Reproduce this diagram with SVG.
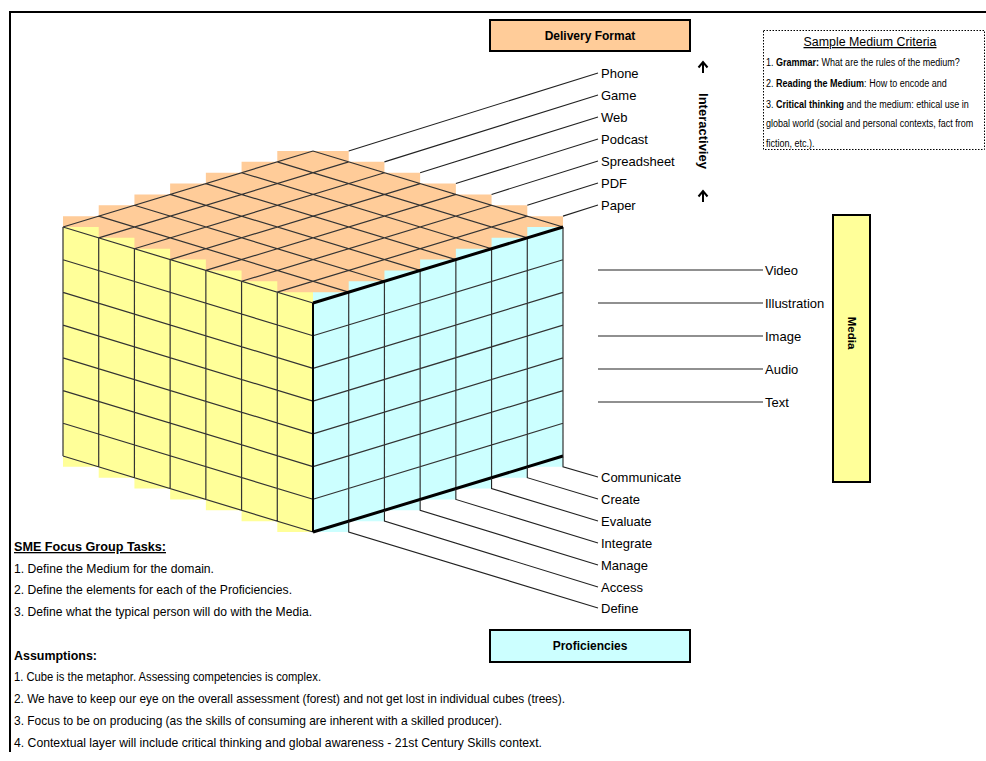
<svg xmlns="http://www.w3.org/2000/svg" width="986" height="761" viewBox="0 0 986 761">
  <style>
    text { font-family: "Liberation Sans", Arial, sans-serif; fill: #000; }
    .lbl { font-size: 13px; }
    .bold { font-weight: bold; }
    .small { font-size: 11px; }
    .grid { fill: none; stroke: #333; stroke-width: 1.2; }
    .edge { fill: none; stroke: #000; stroke-width: 3; }
    .leader { fill: none; stroke: #222; stroke-width: 1.1; }
    .box { stroke: #000; stroke-width: 2; }
  </style>

  <!-- page frame -->
  <g id="frame">
    <path d="M10,752 V12 H986" fill="none" stroke="#000" stroke-width="2"/>
  </g>

  <!-- 7x7x7 cube drawn from stepped cell columns -->
  <g id="cube">
    <!-- top face: delivery formats -->
    <path fill="#FFCC99" d="M63,216.14 H98.71 V205.29 H134.43 V194.43 H170.14 V183.57 H205.86 V172.71 H241.57 V161.86 H277.29 V151 H348.71 V161.86 H384.43 V172.71 H420.14 V183.57 H455.86 V194.43 H491.57 V205.29 H527.29 V216.14 H563 V303 H63 Z"/>
    <!-- left face: media -->
    <path fill="#FFFF99" d="M63,227 H98.71 V237.86 H134.43 V248.71 H170.14 V259.57 H205.86 V270.43 H241.57 V281.29 H277.29 V292.14 H313 V532 H277.29 V521.14 H241.57 V510.29 H205.86 V499.43 H170.14 V488.57 H134.43 V477.71 H98.71 V466.86 H63 Z"/>
    <!-- right face: proficiencies -->
    <path fill="#CCFFFF" d="M313,292.14 H348.71 V281.29 H384.43 V270.43 H420.14 V259.57 H455.86 V248.71 H491.57 V237.86 H527.29 V227 H563 V466.86 H527.29 V477.71 H491.57 V488.57 H455.86 V499.43 H420.14 V510.29 H384.43 V521.14 H348.71 V532 H313 Z"/>

    <!-- top face grid -->
    <path class="grid" d="M63,227 L313,303 M98.71,216.14 L348.71,292.14 M134.43,205.29 L384.43,281.29 M170.14,194.43 L420.14,270.43 M205.86,183.57 L455.86,259.57 M241.57,172.71 L491.57,248.71 M277.29,161.86 L527.29,237.86 M313,151 L563,227
      M63,227 L313,151 M98.71,237.86 L348.71,161.86 M134.43,248.71 L384.43,172.71 M170.14,259.57 L420.14,183.57 M205.86,270.43 L455.86,194.43 M241.57,281.29 L491.57,205.29 M277.29,292.14 L527.29,216.14"/>
    <!-- left face grid -->
    <path class="grid" d="M63,259.71 L313,335.71 M63,292.43 L313,368.43 M63,325.14 L313,401.14 M63,357.86 L313,433.86 M63,390.57 L313,466.57 M63,423.29 L313,499.29 M63,456 L313,532
      M63,227 V456 M98.71,237.86 V466.86 M134.43,248.71 V477.71 M170.14,259.57 V488.57 M205.86,270.43 V499.43 M241.57,281.29 V510.29 M277.29,292.14 V521.14"/>
    <!-- right face grid -->
    <path class="grid" d="M313,335.71 L563,259.71 M313,368.43 L563,292.43 M313,401.14 L563,325.14 M313,433.86 L563,357.86 M313,466.57 L563,390.57 M313,499.29 L563,423.29
      M348.71,292.14 V521.14 M384.43,281.29 V510.29 M420.14,270.43 V499.43 M455.86,259.57 V488.57 M491.57,248.71 V477.71 M527.29,237.86 V466.86 M563,227 V456"/>
    <!-- front edges -->
    <path class="edge" d="M313,303 L563,227 M313,532 L563,456"/>
    <path fill="none" stroke="#000" stroke-width="2" d="M313,303 V532"/>
  </g>

  <!-- leader lines -->
  <g id="connectors">
    <!-- delivery formats -->
    <path class="leader" d="M348.71,151 L598,73 M384.43,161.86 L598,95 M420.14,172.71 L598,117 M455.86,183.57 L598,139 M491.57,194.43 L598,161 M527.29,205.29 L598,183 M563,216.14 L598,205"/>
    <!-- media -->
    <path class="leader" d="M598,270 H763 M598,303 H763 M598,336 H763 M598,369 H763 M598,402 H763"/>
    <!-- proficiencies -->
    <path class="leader" d="M348.71,521.14 V532 L598,608 M384.43,510.29 V521.14 L598,587 M420.14,499.43 V510.29 L598,565 M455.86,488.57 V499.43 L598,543 M491.57,477.71 V488.57 L598,521 M527.29,466.86 V477.71 L598,499 M563,456 V466.86 L598,477"/>
  </g>

  <g id="format-labels">
    <text class="lbl" x="601" y="78">Phone</text>
    <text class="lbl" x="601" y="100">Game</text>
    <text class="lbl" x="601" y="122">Web</text>
    <text class="lbl" x="601" y="144">Podcast</text>
    <text class="lbl" x="601" y="166">Spreadsheet</text>
    <text class="lbl" x="601" y="188">PDF</text>
    <text class="lbl" x="601" y="210">Paper</text>
  </g>

  <g id="media-labels">
    <text class="lbl" x="765" y="275">Video</text>
    <text class="lbl" x="765" y="308">Illustration</text>
    <text class="lbl" x="765" y="341">Image</text>
    <text class="lbl" x="765" y="374">Audio</text>
    <text class="lbl" x="765" y="407">Text</text>
  </g>

  <g id="proficiency-labels">
    <text class="lbl" x="601" y="482">Communicate</text>
    <text class="lbl" x="601" y="504">Create</text>
    <text class="lbl" x="601" y="526">Evaluate</text>
    <text class="lbl" x="601" y="548">Integrate</text>
    <text class="lbl" x="601" y="570">Manage</text>
    <text class="lbl" x="601" y="592">Access</text>
    <text class="lbl" x="601" y="613">Define</text>
  </g>

  <g id="delivery-format">
    <rect class="box" x="490" y="20" width="200" height="31" fill="#FFCC99"/>
    <text class="bold" x="590" y="40" font-size="12" text-anchor="middle">Delivery Format</text>
  </g>

  <g id="interactivity">
    <path d="M703,73 V63 M698.5,67.5 L703,62 L707.5,67.5" fill="none" stroke="#000" stroke-width="2"/>
    <path d="M703,202 V192 M698.5,196.5 L703,191 L707.5,196.5" fill="none" stroke="#000" stroke-width="2"/>
    <text class="bold" font-size="13" transform="translate(699,131) rotate(90)" text-anchor="middle">Interactiviey</text>
  </g>

  <g id="media">
    <rect class="box" x="833" y="215" width="37" height="267" fill="#FFFF99"/>
    <text class="bold" font-size="11.5" transform="translate(848,333) rotate(90)" text-anchor="middle">Media</text>
  </g>

  <g id="proficiencies">
    <rect class="box" x="490" y="630" width="200" height="32" fill="#CCFFFF"/>
    <text class="bold" x="590" y="650" font-size="12" text-anchor="middle">Proficiencies</text>
  </g>

  <g id="criteria">
    <rect x="763.5" y="30.5" width="221" height="119" fill="#fff" stroke="#000" stroke-width="1" stroke-dasharray="1.5 1.5"/>
    <text x="870" y="46" font-size="12.5" text-anchor="middle" text-decoration="underline" textLength="133" lengthAdjust="spacingAndGlyphs">Sample Medium Criteria</text>
    <!-- body lines are set in a horizontally condensed face -->
    <g transform="translate(766,0) scale(0.82,1)">
      <text class="small" x="0" y="66">1. <tspan class="bold">Grammar:</tspan> What are the rules of the medium?</text>
      <text class="small" x="0" y="87">2. <tspan class="bold">Reading the Medium</tspan>: How to encode and</text>
      <text class="small" x="0" y="108">3. <tspan class="bold">Critical thinking</tspan> and the medium: ethical use in</text>
      <text class="small" x="0" y="127">global world (social and personal contexts, fact from</text>
      <text class="small" x="0" y="147">fiction, etc.).</text>
    </g>
  </g>

  <g id="tasks">
    <text class="bold" x="14" y="551" font-size="13" text-decoration="underline" textLength="152" lengthAdjust="spacingAndGlyphs">SME Focus Group Tasks:</text>
    <text x="14" y="573" font-size="13" textLength="200" lengthAdjust="spacingAndGlyphs">1. Define the Medium for the domain.</text>
    <text x="14" y="594" font-size="13" textLength="278" lengthAdjust="spacingAndGlyphs">2. Define the elements for each of the Proficiencies.</text>
    <text x="14" y="616" font-size="13" textLength="298" lengthAdjust="spacingAndGlyphs">3. Define what the typical person will do with the Media.</text>
  </g>

  <g id="assumptions">
    <text class="bold" x="14" y="660" font-size="13" textLength="83" lengthAdjust="spacingAndGlyphs">Assumptions:</text>
    <text x="14" y="681" font-size="13" textLength="307" lengthAdjust="spacingAndGlyphs">1. Cube is the metaphor. Assessing competencies is complex.</text>
    <text x="14" y="703" font-size="13" textLength="551" lengthAdjust="spacingAndGlyphs">2. We have to keep our eye on the overall assessment (forest) and not get lost in individual cubes (trees).</text>
    <text x="14" y="725" font-size="13" textLength="488" lengthAdjust="spacingAndGlyphs">3. Focus to be on producing (as the skills of consuming are inherent with a skilled producer).</text>
    <text x="14" y="747" font-size="13" textLength="528" lengthAdjust="spacingAndGlyphs">4. Contextual layer will include critical thinking and global awareness - 21st Century Skills context.</text>
  </g>
</svg>
